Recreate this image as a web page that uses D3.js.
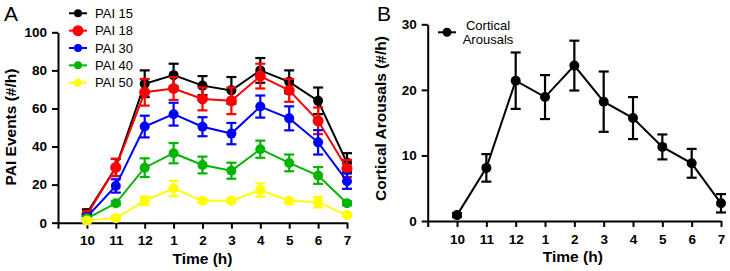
<!DOCTYPE html>
<html>
<head>
<meta charset="utf-8">
<script src="https://cdn.jsdelivr.net/npm/d3@7"></script>
<style>
  body { margin: 0; background: #fff; }
  svg text { font-family: "Liberation Sans", Arial, sans-serif; }
</style>
</head>
<body>
<div id="chart"></div>
<script>
// hours of the night, first slot on the axis is empty
const times = ["10", "11", "12", "1", "2", "3", "4", "5", "6", "7"];

// panel A - PAI events per hour
const paiNames = ["PAI 15", "PAI 18", "PAI 30", "PAI 40", "PAI 50"];
const paiColors = ["#000000", "#ff0000", "#0000ff", "#00b400", "#ffff00"];
const pai15 = [5, 29, 73, 77.5, 72, 69.5, 80, 74, 64, 31.5];
const pai15Err = [2, 4.5, 7, 6, 5, 7, 6.5, 6, 7, 5];
const pai18 = [4, 29, 68.5, 70.5, 65, 64, 77, 69.5, 53.5, 28.5];
const pai18Err = [2, 4.5, 7, 6, 6, 7, 6.5, 6, 7, 4.5];
const pai30 = [3, 19.3, 50.5, 57, 50.4, 46.8, 61, 54.8, 42.2, 21.8];
const pai30Err = [1.5, 3.5, 5.7, 6, 5, 5.6, 5.8, 6.3, 6.4, 4];
const pai40 = [2.3, 10.2, 28.9, 36.5, 30.3, 27.3, 38.6, 31.4, 24.8, 10.2];
const pai40Err = [1, 1, 4.9, 5.3, 4.4, 4.2, 4.5, 4.4, 4.4, 1];
const pai50 = [1.2, 2.4, 11.5, 18, 11.5, 11.5, 17.2, 11.5, 10.8, 4];
const pai50Err = [1, 1, 2.2, 4, 1, 1, 3.5, 1, 2.8, 1];

// panel B - cortical arousals per hour
const arousals = [0.9, 8.1, 21.4, 18.9, 23.7, 18.2, 15.7, 11.3, 8.8, 2.7];
const arousalsErr = [0.3, 2.1, 4.3, 3.35, 3.8, 4.6, 3.2, 1.9, 2.2, 1.4];

const ticksA = [0, 20, 40, 60, 80, 100];
const ticksB = [0, 10, 20, 30];

const paiSeries = [
  { name: paiNames[0], color: paiColors[0], values: pai15, err: pai15Err, r: 5 },
  { name: paiNames[1], color: paiColors[1], values: pai18, err: pai18Err, r: 5.5 },
  { name: paiNames[2], color: paiColors[2], values: pai30, err: pai30Err, r: 5 },
  { name: paiNames[3], color: paiColors[3], values: pai40, err: pai40Err, r: 5 },
  { name: paiNames[4], color: paiColors[4], values: pai50, err: pai50Err, r: 5 }
];

const svg = d3.select("#chart")
  .append("svg")
  .attr("width", 730)
  .attr("height", 271);

function drawPanel(opts) {
  const g = svg.append("g");

  const x = d3.scaleLinear()
    .domain([-1, times.length - 1])
    .range([opts.left, opts.right]);
  const y = d3.scaleLinear()
    .domain([0, opts.ymax])
    .range([opts.bottom, opts.top]);

  // x axis
  const xAxis = g.append("g")
    .attr("transform", "translate(0," + opts.bottom + ")")
    .call(d3.axisBottom(x)
      .tickValues(d3.range(-1, times.length))
      .tickFormat(i => i < 0 ? "" : times[i])
      .tickSize(6)
      .tickSizeOuter(0));
  xAxis.selectAll("text")
    .attr("dy", "0.71em")
    .attr("y", 13)
    .style("font-size", "13.5px")
    .style("font-weight", "bold")
    .attr("fill", "#000");

  // y axis
  const yAxis = g.append("g")
    .attr("transform", "translate(" + opts.left + ",0)")
    .call(d3.axisLeft(y)
      .tickValues(opts.ticks)
      .tickSize(6)
      .tickSizeOuter(0));
  yAxis.selectAll("text")
    .attr("x", -11)
    .style("font-size", "13.5px")
    .style("font-weight", "bold")
    .attr("fill", "#000");

  g.selectAll(".domain, .tick line")
    .attr("stroke", "#000")
    .attr("stroke-width", 2);

  // titles
  g.append("text")
    .attr("x", (opts.left + opts.right) / 2 + opts.titleShift)
    .attr("y", opts.bottom + 41)
    .attr("text-anchor", "middle")
    .style("font-size", "15.5px")
    .style("font-weight", "bold")
    .text("Time (h)");

  g.append("text")
    .attr("transform", "translate(" + opts.ytitleX + "," + opts.ytitleY + ") rotate(-90)")
    .attr("text-anchor", "middle")
    .style("font-size", "15.5px")
    .style("font-weight", "bold")
    .text(opts.ytitle);

  g.append("text")
    .attr("x", opts.letterX)
    .attr("y", 21)
    .style("font-size", "21px")
    .text(opts.letter);

  // series
  const line = d3.line()
    .x((d, i) => x(i))
    .y(d => y(d));

  opts.series.forEach(function(s) {
    const sg = g.append("g");
    sg.append("path")
      .datum(s.values)
      .attr("fill", "none")
      .attr("stroke", s.color)
      .attr("stroke-width", 2)
      .attr("d", line);

    const bars = sg.selectAll(".err")
      .data(s.values)
      .enter()
      .append("g");
    bars.append("line")
      .attr("x1", (d, i) => x(i))
      .attr("x2", (d, i) => x(i))
      .attr("y1", (d, i) => y(d - s.err[i]))
      .attr("y2", (d, i) => y(d + s.err[i]));
    bars.append("line")
      .attr("x1", (d, i) => x(i) - 5)
      .attr("x2", (d, i) => x(i) + 5)
      .attr("y1", (d, i) => y(d + s.err[i]))
      .attr("y2", (d, i) => y(d + s.err[i]));
    bars.append("line")
      .attr("x1", (d, i) => x(i) - 5)
      .attr("x2", (d, i) => x(i) + 5)
      .attr("y1", (d, i) => y(d - s.err[i]))
      .attr("y2", (d, i) => y(d - s.err[i]));
    bars.selectAll("line")
      .attr("stroke", s.color)
      .attr("stroke-width", 2.2);

    sg.selectAll("circle")
      .data(s.values)
      .enter()
      .append("circle")
      .attr("cx", (d, i) => x(i))
      .attr("cy", d => y(d))
      .attr("r", s.r)
      .attr("fill", s.color);
  });

  return g;
}

// panel A
const gA = drawPanel({
  left: 58, right: 347, top: 32.3, bottom: 222.7,
  ymax: 100, ticks: ticksA, titleShift: 0,
  ytitle: "PAI Events (#/h)", ytitleX: 15.5, ytitleY: 127,
  letter: "A", letterX: 4,
  series: paiSeries
});

// legend A
const legA = gA.selectAll(".leg")
  .data(paiSeries)
  .enter()
  .append("g")
  .attr("transform", (d, i) => "translate(69," + (13.3 + i * 17.35) + ")");
legA.append("line")
  .attr("x1", 0).attr("x2", 18)
  .attr("stroke", d => d.color)
  .attr("stroke-width", 2);
legA.append("circle")
  .attr("cx", 9)
  .attr("r", (d, i) => i === 1 ? 5.5 : 4)
  .attr("fill", d => d.color);
legA.append("text")
  .attr("x", 26)
  .attr("dy", "0.35em")
  .style("font-size", "13px")
  .text(d => d.name);

// panel B
const gB = drawPanel({
  left: 427.7, right: 721, top: 24.3, bottom: 221,
  ymax: 30, ticks: ticksB, titleShift: -1.5,
  ytitle: "Cortical Arousals (#/h)", ytitleX: 385.5, ytitleY: 118.5,
  letter: "B", letterX: 377,
  series: [{ name: "Cortical Arousals", color: "#000000", values: arousals, err: arousalsErr, r: 5 }]
});

// legend B
const legB = gB.append("g").attr("transform", "translate(438,32.3)");
legB.append("line")
  .attr("x1", 0).attr("x2", 18)
  .attr("stroke", "#000")
  .attr("stroke-width", 2);
legB.append("circle")
  .attr("cx", 9)
  .attr("r", 4.5)
  .attr("fill", "#000");
legB.append("text")
  .attr("x", 50)
  .attr("y", -7)
  .attr("dy", "0.35em")
  .attr("text-anchor", "middle")
  .style("font-size", "13px")
  .text("Cortical");
legB.append("text")
  .attr("x", 50)
  .attr("y", 7.5)
  .attr("dy", "0.35em")
  .attr("text-anchor", "middle")
  .style("font-size", "13px")
  .text("Arousals");
</script>
</body>
</html>
